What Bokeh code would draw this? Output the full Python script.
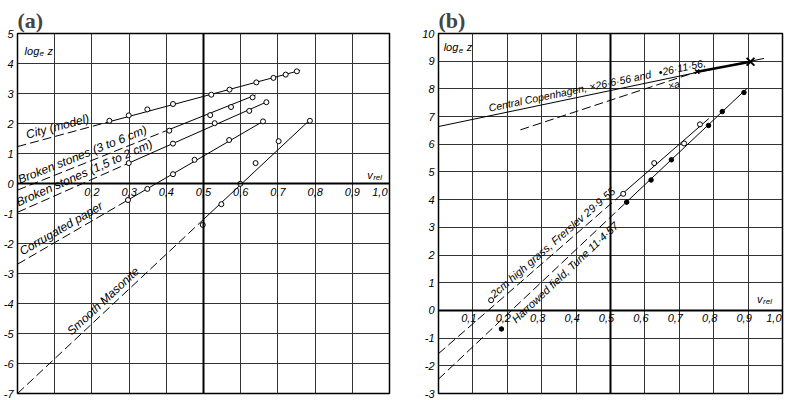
import math
import numpy as np
from bokeh.plotting import figure
from bokeh.models import FixedTicker, Span
from bokeh.layouts import row
from bokeh.embed import file_html
from bokeh.resources import INLINE
from bokeh.core.properties import value

# ---------------- data : panel (a) ----------------
a_xgrid = [0.1, 0.2, 0.3, 0.4, 0.5, 0.6, 0.7, 0.8, 0.9]
a_xticks = [0.2, 0.3, 0.4, 0.5, 0.6, 0.7, 0.8, 0.9, 1.0]
a_xtick_labels = ["0,2", "0,3", "0,4", "0,5", "0,6", "0,7", "0,8", "0,9", "1,0"]
a_yticks = [5, 4, 3, 2, 1, 0, -1, -2, -3, -4, -5, -6, -7]
a_ytick_labels = ["5", "4", "3", "2", "1", "0", "-1", "-2", "-3", "-4", "-5", "-6", "-7"]

city_x = [0.247, 0.299, 0.349, 0.418, 0.521, 0.570, 0.642, 0.688, 0.721, 0.751]
city_y = [2.09, 2.27, 2.47, 2.65, 2.96, 3.13, 3.37, 3.52, 3.63, 3.74]
city_dash_x, city_dash_y = [0.0, 0.247], [1.23, 2.06]
city_solid_x, city_solid_y = [0.247, 0.76], [2.06, 3.77]

bs36_x = [0.408, 0.518, 0.574, 0.632]
bs36_y = [1.76, 2.28, 2.55, 2.87]
bs36_dash_x, bs36_dash_y = [0.0, 0.40], [-0.22, 1.76]
bs36_solid_x, bs36_solid_y = [0.40, 0.64], [1.76, 2.95]

bs15_x = [0.299, 0.418, 0.530, 0.623, 0.669]
bs15_y = [0.68, 1.33, 2.01, 2.42, 2.71]
bs15_dash_x, bs15_dash_y = [0.0, 0.299], [-0.96, 0.68]
bs15_solid_x, bs15_solid_y = [0.299, 0.67], [0.68, 2.72]

corr_x = [0.297, 0.349, 0.418, 0.476, 0.569, 0.660]
corr_y = [-0.55, -0.18, 0.31, 0.79, 1.45, 2.07]
corr_dash_x, corr_dash_y = [0.0, 0.297], [-2.69, -0.55]
corr_solid_x, corr_solid_y = [0.297, 0.66], [-0.55, 2.07]

mas_x = [0.498, 0.548, 0.599, 0.640, 0.702, 0.786]
mas_y = [-1.38, -0.69, -0.01, 0.68, 1.41, 2.09]
mas_dash_x, mas_dash_y = [0.0, 0.498], [-7.0, -1.22]
mas_solid_x, mas_solid_y = [0.498, 0.786], [-1.22, 2.12]

a_labels = ["City (model)", "Broken stones (3 to 6 cm)", "Broken stones (1,5 to 2 cm)",
            "Corrugated paper", "Smooth Masonite"]
a_label_x = [0.03, 0.012, 0.008, 0.02, 0.155]

# ---------------- data : panel (b) ----------------
b_xgrid = [0.1, 0.2, 0.3, 0.4, 0.5, 0.6, 0.7, 0.8, 0.9]
b_xticks = [0.1, 0.2, 0.3, 0.4, 0.5, 0.6, 0.7, 0.8, 0.9, 1.0]
b_xtick_labels = ["0,1", "0,2", "0,3", "0,4", "0,5", "0,6", "0,7", "0,8", "0,9", "1,0"]
b_yticks = [10, 9, 8, 7, 6, 5, 4, 3, 2, 1, 0, -1, -2, -3]
b_ytick_labels = ["10", "9", "8", "7", "6", "5", "4", "3", "2", "1", "0", "-1", "-2", "-3"]

cph_line_x, cph_line_y = [0.0, 0.946], [6.64, 9.10]
cph_dash_x, cph_dash_y = [0.238, 0.752], [6.52, 8.62]
cph_thick_x, cph_thick_y = [0.752, 0.907], [8.62, 8.98]
cph_big_x, cph_big_y = [0.907], [8.98]
cph_small_x, cph_small_y = [0.752], [8.62]

grass_x = [0.537, 0.627, 0.714, 0.760]
grass_y = [4.21, 5.32, 6.03, 6.72]
grass_dash_x, grass_dash_y = [0.0, 0.537], [-1.56, 4.24]
grass_solid_x, grass_solid_y = [0.537, 0.786], [4.24, 6.93]
grass_key_x, grass_key_y = [0.153], [0.37]

harrow_x = [0.547, 0.618, 0.677, 0.785, 0.825, 0.888]
harrow_y = [3.91, 4.71, 5.44, 6.68, 7.18, 7.87]
harrow_dash_x, harrow_dash_y = [0.0, 0.547], [-2.48, 3.92]
harrow_solid_x, harrow_solid_y = [0.547, 0.897], [3.92, 8.02]
harrow_key_x, harrow_key_y = [0.183], [-0.67]

# ---------------- layout ----------------
FONT = value("Liberation Sans")
A_W, B_W, H = 393, 392, 400
A_BL, A_BR, B_BL, B_BR, BT, BB = 16, 4, 45, 3, 33, 7
XR = (0.0, 1.0)
A_YR = (-7.0, 5.0)
B_YR = (-3.0, 10.0)


def make_fig(w, bl, br, yr, title, title_offset, yticks, ylabels, xgrid):
    p = figure(width=w, height=H, x_range=XR, y_range=yr, output_backend="svg",
               toolbar_location=None, x_axis_location=None, y_axis_location="left",
               min_border_left=bl, min_border_right=br, min_border_top=BT,
               min_border_bottom=BB, title=title)
    p.title.text_font = "Liberation Serif"
    p.title.text_font_size = "22px"
    p.title.text_font_style = "bold"
    p.title.align = "left"
    p.title.standoff = 2
    p.title.offset = title_offset
    p.outline_line_color = "black"
    p.outline_line_width = 1.5
    p.background_fill_color = "white"
    p.border_fill_color = "white"
    p.yaxis.ticker = FixedTicker(ticks=yticks)
    p.yaxis.major_label_overrides = {t: l for t, l in zip(yticks, ylabels)}
    p.yaxis.axis_line_color = None
    p.yaxis.major_tick_line_color = None
    p.yaxis.minor_tick_line_color = None
    p.yaxis.major_tick_out = 0
    p.yaxis.major_tick_in = 0
    p.yaxis.major_label_standoff = 4
    p.yaxis.major_label_text_font = "Liberation Sans"
    p.yaxis.major_label_text_font_style = "italic"
    p.yaxis.major_label_text_font_size = "11px"
    p.yaxis.major_label_text_color = "black"
    p.xgrid.ticker = FixedTicker(ticks=xgrid)
    p.ygrid.ticker = FixedTicker(ticks=yticks)
    p.grid.grid_line_color = "#333333"
    p.grid.grid_line_width = 1
    p.grid.grid_line_alpha = 1.0
    p.add_layout(Span(location=0.5, dimension="height", line_color="black", line_width=2))
    p.add_layout(Span(location=0, dimension="width", line_color="black", line_width=2))
    return p


def angle_of(xs, ys, fw, fh, yr):
    sx = fw / (XR[1] - XR[0])
    sy = fh / (yr[1] - yr[0])
    return math.atan2((ys[-1] - ys[0]) * sy, (xs[-1] - xs[0]) * sx)


def perp(ang, d):
    # screen offset (x, y-down) of d pixels perpendicular to a rotated baseline, upwards
    return -d * math.sin(ang), -d * math.cos(ang)


def fit(p, dx, dy, sx, sy):
    p.line(dx, dy, line_color="black", line_width=1, line_dash="9 4")
    p.line(sx, sy, line_color="black", line_width=1)


# ---------------- panel (a) ----------------
pa = make_fig(A_W, A_BL, A_BR, A_YR, "(a)", 0, a_yticks, a_ytick_labels, a_xgrid)
A_FW, A_FH = A_W - A_BL - A_BR, H - BT - BB

series_a = [
    (city_dash_x, city_dash_y, city_solid_x, city_solid_y, city_x, city_y),
    (bs36_dash_x, bs36_dash_y, bs36_solid_x, bs36_solid_y, bs36_x, bs36_y),
    (bs15_dash_x, bs15_dash_y, bs15_solid_x, bs15_solid_y, bs15_x, bs15_y),
    (corr_dash_x, corr_dash_y, corr_solid_x, corr_solid_y, corr_x, corr_y),
    (mas_dash_x, mas_dash_y, mas_solid_x, mas_solid_y, mas_x, mas_y),
]
for (dx, dy, sx, sy, px, py), lab, lx in zip(series_a, a_labels, a_label_x):
    fit(pa, dx, dy, sx, sy)
    pa.scatter(px, py, size=5, marker="circle", line_color="black", line_width=1,
               fill_color="white")
    ly = float(np.interp(lx, dx + sx[1:], dy + sy[1:]))
    ang = angle_of(dx + sx, dy + sy, A_FW, A_FH, A_YR)
    ox, oy = perp(ang, 2)
    pa.text(x=[lx], y=[ly], text=[lab], angle=ang, text_font=FONT,
            text_font_style="italic", text_font_size="12px", text_align="left",
            text_baseline="bottom", x_offset=ox, y_offset=oy, text_color="black")

pa.text(x=a_xticks[:-1], y=[0] * (len(a_xticks) - 1), text=a_xtick_labels[:-1],
        text_font=FONT, text_font_style="italic", text_font_size="11px",
        text_align="center", text_baseline="top", y_offset=4, text_color="black")
pa.text(x=a_xticks[-1:], y=[0], text=a_xtick_labels[-1:], text_font=FONT,
        text_font_style="italic", text_font_size="11px", text_align="right",
        text_baseline="top", y_offset=4, x_offset=-2, text_color="black")
pa.text(x=[0.019], y=[4.42], text=["log"], text_font=FONT, text_font_style="italic",
        text_font_size="11px", text_baseline="middle", text_color="black")
pa.text(x=[0.019], y=[4.42], text=["e"], text_font=FONT, text_font_style="italic",
        text_font_size="8px", text_baseline="middle", x_offset=15, y_offset=3,
        text_color="black")
pa.text(x=[0.019], y=[4.42], text=["z"], text_font=FONT, text_font_style="italic",
        text_font_size="11px", text_baseline="middle", x_offset=23, text_color="black")
pa.text(x=[0.94], y=[0.3], text=["v"], text_font=FONT, text_font_style="italic",
        text_font_size="11px", text_baseline="middle", text_color="black")
pa.text(x=[0.94], y=[0.3], text=["rel"], text_font=FONT, text_font_style="italic",
        text_font_size="8px", text_baseline="middle", x_offset=6, y_offset=3,
        text_color="black")

# ---------------- panel (b) ----------------
pb = make_fig(B_W, B_BL, B_BR, B_YR, "(b)", 0, b_yticks, b_ytick_labels, b_xgrid)
B_FW, B_FH = B_W - B_BL - B_BR, H - BT - BB

pb.line(cph_line_x, cph_line_y, line_color="black", line_width=1)
pb.line(cph_dash_x, cph_dash_y, line_color="black", line_width=1, line_dash="9 4")
pb.line(cph_thick_x, cph_thick_y, line_color="black", line_width=2.5)
pb.scatter(cph_big_x, cph_big_y, marker="x", size=11, line_color="black", line_width=2)
pb.scatter(cph_small_x, cph_small_y, marker="x", size=6, line_color="black", line_width=1.5)

fit(pb, grass_dash_x, grass_dash_y, grass_solid_x, grass_solid_y)
fit(pb, harrow_dash_x, harrow_dash_y, harrow_solid_x, harrow_solid_y)
pb.scatter(grass_x, grass_y, size=5, marker="circle", line_color="black", line_width=1,
           fill_color="white")
pb.scatter(grass_key_x, grass_key_y, size=5, marker="circle", line_color="black",
           line_width=1, fill_color="white")
pb.scatter(harrow_x, harrow_y, size=4.5, marker="circle", line_color="black",
           fill_color="black")
pb.scatter(harrow_key_x, harrow_key_y, size=4.5, marker="circle", line_color="black",
           fill_color="black")

cph_ang = angle_of(cph_line_x, cph_line_y, B_FW, B_FH, B_YR)
cph_lab_x = [0.151, 0.645]
cph_lab_y = [float(np.interp(v, cph_line_x, cph_line_y)) for v in cph_lab_x]
ox, oy = perp(cph_ang, 2)
pb.text(x=cph_lab_x, y=cph_lab_y, text=["Central Copenhagen, ×26·6·56 and", "•26·11·56,"],
        angle=cph_ang, text_font=FONT, text_font_style="italic", text_font_size="10.5px",
        text_align="left", text_baseline="bottom", x_offset=ox, y_offset=oy,
        text_color="black")
pb.text(x=[0.665], y=[float(np.interp(0.665, cph_line_x, cph_line_y))], text=["×a"],
        angle=cph_ang, text_font=FONT, text_font_style="italic", text_font_size="10px",
        text_align="left", text_baseline="top", y_offset=2, text_color="black")

g_lx = 0.172
g_ly = float(np.interp(g_lx, grass_dash_x + grass_solid_x[1:], grass_dash_y + grass_solid_y[1:]))
g_ang = angle_of(grass_dash_x + grass_solid_x, grass_dash_y + grass_solid_y, B_FW, B_FH, B_YR)
ox, oy = perp(g_ang, 3)
pb.text(x=[g_lx], y=[g_ly], text=["2cm high grass, Frerslev 29·9·55"], angle=g_ang,
        text_font=FONT, text_font_style="italic", text_font_size="11px",
        text_align="left", text_baseline="bottom", x_offset=ox, y_offset=oy,
        text_color="black")

h_lx = 0.20
h_ly = float(np.interp(h_lx, harrow_dash_x + harrow_solid_x[1:], harrow_dash_y + harrow_solid_y[1:]))
h_ang = angle_of(harrow_dash_x + harrow_solid_x, harrow_dash_y + harrow_solid_y, B_FW, B_FH, B_YR)
ox, oy = perp(h_ang, -3)
pb.text(x=[h_lx], y=[h_ly], text=["Harrowed field, Tune 11·4·57"], angle=h_ang,
        text_font=FONT, text_font_style="italic", text_font_size="11px",
        text_align="left", text_baseline="top", x_offset=ox, y_offset=oy,
        text_color="black")

pb.text(x=b_xticks[:-1], y=[0] * (len(b_xticks) - 1), text=b_xtick_labels[:-1],
        text_font=FONT, text_font_style="italic", text_font_size="11px",
        text_align="center", text_baseline="top", y_offset=4, x_offset=-4,
        text_color="black")
pb.text(x=b_xticks[-1:], y=[0], text=b_xtick_labels[-1:], text_font=FONT,
        text_font_style="italic", text_font_size="11px", text_align="right",
        text_baseline="top", y_offset=4, x_offset=-1, text_color="black")
pb.text(x=[0.015], y=[9.5], text=["log"], text_font=FONT, text_font_style="italic",
        text_font_size="11px", text_baseline="middle", text_color="black")
pb.text(x=[0.015], y=[9.5], text=["e"], text_font=FONT, text_font_style="italic",
        text_font_size="8px", text_baseline="middle", x_offset=15, y_offset=3,
        text_color="black")
pb.text(x=[0.015], y=[9.5], text=["z"], text_font=FONT, text_font_style="italic",
        text_font_size="11px", text_baseline="middle", x_offset=23, text_color="black")
pb.text(x=[0.926], y=[0.42], text=["v"], text_font=FONT, text_font_style="italic",
        text_font_size="11px", text_baseline="middle", text_color="black")
pb.text(x=[0.926], y=[0.42], text=["rel"], text_font=FONT, text_font_style="italic",
        text_font_size="8px", text_baseline="middle", x_offset=6, y_offset=3,
        text_color="black")

layout = row(pa, pb)
open("out.html", "w").write(file_html(layout, INLINE))
